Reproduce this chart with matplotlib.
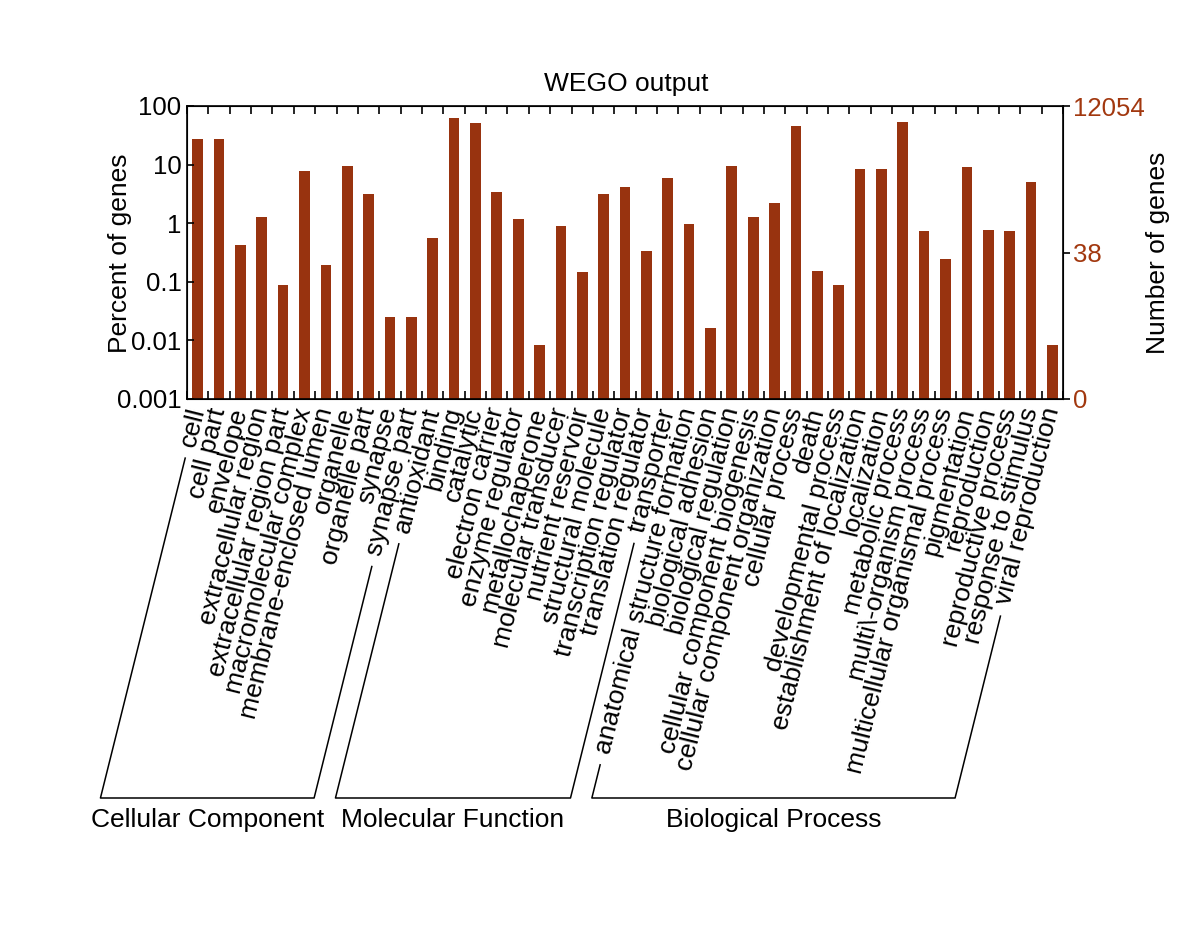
import numpy as np
import matplotlib
matplotlib.use("Agg")
import matplotlib.pyplot as plt
from matplotlib.lines import Line2D
from matplotlib.font_manager import FontProperties

plt.rcParams['font.family'] = ['Liberation Sans', 'DejaVu Sans']

# ---------------- data ----------------
cc_terms = ["cell", "cell part", "envelope", "extracellular region",
            "extracellular region part", "macromolecular complex",
            "membrane-enclosed lumen", "organelle", "organelle part",
            "synapse", "synapse part"]
cc_pct = [27.8, 27.8, 0.425, 1.29, 0.0885, 7.7, 0.194, 9.5, 3.18, 0.0246, 0.0246]

mf_terms = ["antioxidant", "binding", "catalytic", "electron carrier",
            "enzyme regulator", "metallochaperone", "molecular transducer",
            "nutrient reservoir", "structural molecule",
            "transcription regulator", "translation regulator", "transporter"]
mf_pct = [0.55, 63.3, 50.7, 3.35, 1.18, 0.0082, 0.906, 0.147, 3.09, 4.07, 0.336, 6.02]

bp_terms = ["anatomical structure formation", "biological adhesion",
            "biological regulation", "cellular component biogenesis",
            "cellular component organization", "cellular process", "death",
            "developmental process", "establishment of localization",
            "localization", "metabolic process", "multi\\-organism process",
            "multicellular organismal process", "pigmentation", "reproduction",
            "reproductive process", "response to stimulus", "viral reproduction"]
bp_pct = [0.98, 0.0166, 9.64, 1.29, 2.17, 45.6, 0.155, 0.0896, 8.46, 8.5,
          54.1, 0.725, 0.245, 9.04, 0.774, 0.744, 4.95, 0.0083]

groups = ["Cellular Component", "Molecular Function", "Biological Process"]
total_genes = 12054
right_tick_labels = ["0", "38", "12054"]
right_tick_genes = [total_genes * 0.001 / 100, 38, total_genes]

# ---------------- styling ----------------
BAR = '#98330F'
TXT = '#A2380F'
FS_TICK = 18.5
FS = 19
ROT = 76.0

terms = cc_terms + mf_terms + bp_terms
pct = cc_pct + mf_pct + bp_pct
group_terms = [cc_terms, mf_terms, bp_terms]
n = len(terms)
x = np.arange(n)

W, H = 1200, 925
fig = plt.figure(figsize=(W / 100, H / 100), dpi=100)
ax = fig.add_axes([187 / W, 1 - 399 / H, (1063 - 187) / W, (399 - 106) / H])

ax.bar(x, pct, width=0.5, color=BAR, edgecolor='none')
ax.set_yscale('log')
ymin, ymax = 0.001, 100
ax.set_ylim(ymin, ymax)
ax.set_xlim(-0.5, n - 0.5)
ax.set_yticks([0.001, 0.01, 0.1, 1, 10, 100])
ax.set_yticklabels(["0.001", "0.01", "0.1", "1", "10", "100"])
ax.yaxis.set_minor_locator(matplotlib.ticker.NullLocator())
ax.tick_params(axis='y', which='major', direction='in', length=5, width=1.2,
               labelsize=FS_TICK, pad=4, right=False)
ax.set_xticks([])
ax.set_xticks(np.arange(-0.5, n, 1.0), minor=True)
ax.tick_params(axis='x', which='minor', direction='in', length=6, width=1.2,
               top=True, bottom=True, labelbottom=False)
for s in ax.spines.values():
    s.set_linewidth(1.2)

# right axis: gene counts
ax2 = ax.twinx()
ax2.set_yscale('log')
ax2.set_ylim(ymin * total_genes / 100, ymax * total_genes / 100)
ax2.set_yticks(right_tick_genes)
ax2.set_yticklabels(right_tick_labels)
ax2.yaxis.set_minor_locator(matplotlib.ticker.NullLocator())
ax2.tick_params(axis='y', which='major', direction='out', length=5, width=1.2,
                labelsize=FS_TICK, labelcolor=TXT, pad=2)

# titles / axis labels
fig.text(626 / W, 1 - 84 / H, "WEGO output", ha='center', va='center', fontsize=FS)
fig.text(120 / W, 1 - 253 / H, "Percent of genes", rotation=90,
         ha='center', va='center', fontsize=FS)
fig.text(1158 / W, 1 - 253 / H, "Number of genes", rotation=90,
         ha='center', va='center', fontsize=FS)

# rotated category labels
label_y = -9.0 / ((399 - 106))
texts = []
for i, t in enumerate(terms):
    tx = ax.text(i, label_y, t, transform=ax.get_xaxis_transform(),
                 rotation=ROT, rotation_mode='anchor', ha='right', va='center',
                 fontsize=FS)
    texts.append(tx)

fig.canvas.draw()
renderer = fig.canvas.get_renderer()
prop = FontProperties(family=['Liberation Sans', 'DejaVu Sans'], size=FS)
c, s = np.cos(np.radians(ROT)), np.sin(np.radians(ROT))

def label_start(tx):
    w, h, d = renderer.get_text_width_height_descent(tx.get_text(), prop, ismath=False)
    ax_, ay_ = tx.get_transform().transform(tx.get_position())
    return ax_ - w * c, ay_ - w * s

gap = 12.0
y_base = H - 798.0
inv = fig.transFigure.inverted()
idx = 0
for g, gt in zip(groups, group_terms):
    first = texts[idx]
    last = texts[idx + len(gt) - 1]
    idx += len(gt)
    pts = []
    for tx in (first, last):
        sx, sy = label_start(tx)
        sx -= gap * c
        sy -= gap * s
        ex = sx - (sy - y_base) * c / s
        pts.append(((sx, sy), (ex, y_base)))
    (a1, b1), (a2, b2) = pts
    path = np.array([a1, b1, b2, a2])
    fpath = inv.transform(path)
    fig.add_artist(Line2D(fpath[:, 0], fpath[:, 1], color='black', lw=1.1))
    cx = (b1[0] + b2[0]) / 2
    fig.text(cx / W, 1 - 820 / H, g, ha='center', va='center', fontsize=FS)

fig.savefig("out.png", dpi=100)
